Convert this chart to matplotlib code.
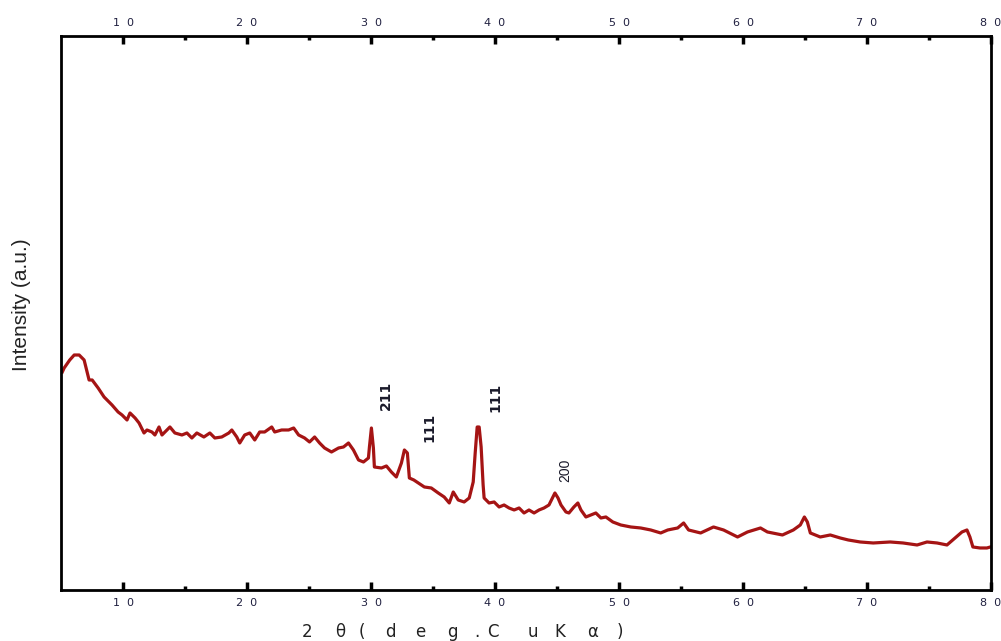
import numpy as np
import matplotlib.pyplot as plt

# XRD pattern (2theta in degrees, intensity in arbitrary units)
two_theta = [5.1, 5.25, 5.7, 6.06, 6.46, 6.86, 7.26, 7.51, 7.99, 8.47, 9.11, 9.60,
             9.92, 10.32, 10.56, 10.97, 11.29, 11.69, 11.93, 12.33, 12.57, 12.90, 13.14,
             13.54, 13.78, 14.18, 14.75, 15.15, 15.55, 15.95, 16.52, 17.00, 17.40, 17.96,
             18.53, 18.77, 19.17, 19.41, 19.81, 20.22, 20.62, 21.02, 21.42, 21.99, 22.23,
             22.79, 23.35, 23.76, 24.16, 24.64, 25.04, 25.45, 25.85, 26.25, 26.81, 27.38,
             27.78, 28.18, 28.58, 28.99, 29.39, 29.79, 29.87, 30.03, 30.19, 30.27, 30.84,
             31.24, 31.64, 32.04, 32.45, 32.69, 32.93, 33.09, 33.45, 33.81, 34.30, 34.86,
             35.42, 35.90, 36.31, 36.63, 37.03, 37.51, 37.92, 38.24, 38.40, 38.56, 38.72,
             38.88, 39.04, 39.12, 39.52, 39.93, 40.33, 40.73, 41.13, 41.54, 41.94, 42.34,
             42.74, 43.15, 43.55, 43.95, 44.35, 44.67, 44.83, 45.08, 45.32, 45.72, 45.96,
             46.36, 46.68, 46.93, 47.33, 47.73, 48.13, 48.54, 48.94, 49.50, 50.14, 50.95,
             51.75, 52.56, 53.36, 53.93, 54.73, 55.21, 55.61, 56.58, 57.62, 58.43, 59.56,
             60.36, 61.41, 61.97, 63.18, 64.06, 64.62, 64.95, 65.19, 65.43, 66.23, 67.04,
             67.84, 68.49, 69.45, 70.50, 71.87, 72.91, 74.04, 74.84, 75.65, 76.45, 77.10,
             77.66, 78.06, 78.30, 78.54, 79.11, 79.67, 79.95]
intensity = [218, 222, 230, 235, 235, 230, 210, 210, 202, 193, 185, 178,
             175, 170, 177, 172, 167, 157, 160, 158, 155, 163, 155,
             160, 163, 157, 155, 157, 152, 157, 153, 157, 152, 153,
             157, 160, 153, 147, 155, 157, 150, 158, 158, 163, 158,
             160, 160, 162, 155, 152, 148, 153, 147, 142, 138, 142,
             143, 147, 140, 130, 128, 132, 143, 162, 142, 123, 122,
             124, 118, 113, 127, 140, 137, 112, 110, 107, 103, 102,
             97, 93, 87, 98, 90, 88, 92, 108, 137, 163, 163,
             143, 105, 92, 87, 88, 83, 85, 82, 80, 82, 77,
             80, 77, 80, 82, 85, 93, 97, 92, 85, 78, 77,
             83, 87, 80, 73, 75, 77, 72, 73, 68, 65, 63,
             62, 60, 57, 60, 62, 67, 60, 57, 63, 60, 53,
             58, 62, 58, 55, 60, 65, 73, 68, 57, 53, 55,
             52, 50, 48, 47, 48, 47, 45, 48, 47, 45, 52,
             58, 60, 53, 43, 42, 42, 43]

peak_labels = ['211', '111', '111', '200']
peak_x = [31.16, 34.70, 40.0, 45.64]
peak_y = [195, 163, 193, 120]
peak_bold = [True, True, True, False]

tick_vals = [10, 20, 30, 40, 50, 60, 70, 80]
tick_text = ['1  0', '2  0', '3  0', '4  0', '5  0', '6  0', '7  0', '8  0']

xlabel_chars = ['2', 'θ', '(', 'd', 'e', 'g', '.', 'C', 'u', 'K', 'α', ')']
xlabel_px = [307, 340, 362, 390, 420, 452, 477, 493, 533, 560, 593, 620]

fig = plt.figure(figsize=(10.01, 6.41), dpi=100)
ax = fig.add_axes([0.061, 0.0796, 0.929, 0.8642])

ax.plot(two_theta, intensity, color='#a51414', lw=2.3)

for lab, x, y, b in zip(peak_labels, peak_x, peak_y, peak_bold):
    ax.text(x, y, lab, rotation=90, ha='center', va='center',
            fontsize=10, fontweight='bold' if b else 'normal',
            family='Liberation Sans Narrow' if b else 'Liberation Sans', color='#1a1a2a')

ax.set_xlim(5, 80)
ax.set_ylim(0, 554)

ax.set_xticks(tick_vals)
ax.set_xticklabels(tick_text)
ax.set_xticks(np.arange(15, 80, 10), minor=True)
ax.tick_params(axis='x', which='both', direction='in', top=True, bottom=True,
               labeltop=True, labelbottom=True, labelsize=8, labelcolor='#202040', pad=6)
ax.tick_params(axis='x', which='major', length=6, width=2.5)
ax.tick_params(axis='x', which='minor', length=3, width=2.5)
ax.set_yticks([])
for s in ax.spines.values():
    s.set_linewidth(2)

fig.text(22 / 1001, 1 - 305 / 641, 'Intensity (a.u.)', rotation=90, ha='center', va='center',
         fontsize=15, family='Liberation Sans', color='#222222')
for ch, px in zip(xlabel_chars, xlabel_px):
    fig.text(px / 1001, 1 - 632 / 641, ch, ha='center', va='center',
             fontsize=12, color='#222222')

fig.savefig('out.png', dpi=100)
